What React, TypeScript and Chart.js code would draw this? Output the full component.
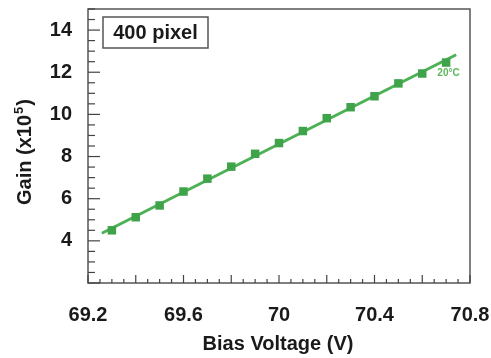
import React, { useEffect, useRef } from "react";
import { Chart, registerables } from "chart.js";

Chart.register(...registerables);

const voltage = [69.3, 69.4, 69.5, 69.6, 69.7, 69.8, 69.9, 70.0, 70.1, 70.2, 70.3, 70.4, 70.5, 70.6, 70.7];
const gain = [4.5, 5.12, 5.68, 6.34, 6.95, 7.52, 8.13, 8.64, 9.21, 9.82, 10.34, 10.86, 11.47, 11.94, 12.46];
const fitVoltage = [69.258, 70.742];
const fitGain = [4.36, 12.83];
const xTickLabels = [69.2, 69.6, 70, 70.4, 70.8];
const yTickLabels = [4, 6, 8, 10, 12, 14];
const seriesLabel = "20°C";
const boxLabel = "400 pixel";

const FONT = "'Liberation Sans', Arial, sans-serif";

const zeroPad = (s: any) => {
  s.paddingLeft = 0;
  s.paddingRight = 0;
  s.paddingTop = 0;
  s.paddingBottom = 0;
};

const decorPlugin = {
  id: "decor",
  afterDraw(chart: any) {
    const { ctx, chartArea: a, scales } = chart;
    const xs = scales.x;
    const ys = scales.y;
    ctx.save();
    // frame
    ctx.strokeStyle = "#555";
    ctx.lineWidth = 1.5;
    ctx.strokeRect(a.left, a.top, a.right - a.left, a.bottom - a.top);
    // x ticks (inward)
    ctx.lineWidth = 1.2;
    ctx.strokeStyle = "#444";
    for (let i = 0; i <= 32; i++) {
      const v = 69.2 + i * 0.05;
      const px = xs.getPixelForValue(v);
      const len = i % 4 === 0 ? 8 : 4;
      ctx.beginPath();
      ctx.moveTo(px, a.bottom);
      ctx.lineTo(px, a.bottom - len);
      ctx.stroke();
    }
    // y ticks (inward)
    for (let i = 0; i <= 26; i++) {
      const v = 2 + i * 0.5;
      const py = ys.getPixelForValue(v);
      const len = i % 4 === 0 ? 12 : 7;
      ctx.beginPath();
      ctx.moveTo(a.left, py);
      ctx.lineTo(a.left + len, py);
      ctx.stroke();
    }
    // label box
    const bx = a.left + 15;
    const by = a.top + 8;
    ctx.strokeStyle = "#555";
    ctx.lineWidth = 1.5;
    ctx.strokeRect(bx, by, 105, 31);
    ctx.fillStyle = "#1a1a1a";
    ctx.font = `bold 20px ${FONT}`;
    ctx.textAlign = "center";
    ctx.textBaseline = "middle";
    ctx.fillText(boxLabel, bx + 52.5, by + 16);
    // series label
    ctx.fillStyle = "#5cb85c";
    ctx.font = `bold 10px ${FONT}`;
    ctx.fillText(seriesLabel, xs.getPixelForValue(70.71), ys.getPixelForValue(11.94));
    // x title
    ctx.fillStyle = "#1a1a1a";
    ctx.font = `bold 20px ${FONT}`;
    ctx.textBaseline = "alphabetic";
    ctx.fillText("Bias Voltage (V)", 278, 350);
    // y title with superscript
    const t1 = "Gain (x10";
    const t2 = "5";
    const t3 = ")";
    ctx.font = `bold 20px ${FONT}`;
    const w1 = ctx.measureText(t1).width;
    const w3 = ctx.measureText(t3).width;
    ctx.font = `bold 13px ${FONT}`;
    const w2 = ctx.measureText(t2).width;
    const total = w1 + w2 + w3 + 2;
    ctx.translate(31, 152);
    ctx.rotate(-Math.PI / 2);
    ctx.textAlign = "left";
    ctx.font = `bold 20px ${FONT}`;
    ctx.fillText(t1, -total / 2, 0);
    ctx.font = `bold 13px ${FONT}`;
    ctx.fillText(t2, -total / 2 + w1 + 1, -8);
    ctx.font = `bold 20px ${FONT}`;
    ctx.fillText(t3, -total / 2 + w1 + w2 + 2, 0);
    ctx.restore();
  },
};

export default function App() {
  const ref = useRef<HTMLCanvasElement | null>(null);
  useEffect(() => {
    if (!ref.current) return;
    const chart = new Chart(ref.current, {
      type: "scatter",
      data: {
        datasets: [
          {
            data: voltage.map((v, i) => ({ x: v, y: gain[i] })),
            pointStyle: "rect",
            pointRadius: 6,
            backgroundColor: "#3fa34a",
            borderColor: "#3fa34a",
            borderWidth: 0,
            showLine: false,
            order: 0,
          },
          {
            data: fitVoltage.map((v, i) => ({ x: v, y: fitGain[i] })),
            showLine: true,
            pointRadius: 0,
            borderColor: "#4cb055",
            borderWidth: 3,
            order: 1,
          },
        ],
      },
      options: {
        responsive: false,
        animation: false,
        layout: { padding: { top: 9, right: 21, left: 0, bottom: 0 } },
        plugins: { legend: { display: false }, tooltip: { enabled: false } },
        scales: {
          x: {
            type: "linear",
            min: 69.2,
            max: 70.8,
            afterBuildTicks: (s: any) => {
              s.ticks = xTickLabels.map((v) => ({ value: v }));
            },
            afterFit: (s: any) => {
              s.height = 75;
              zeroPad(s);
            },
            grid: { display: false, drawTicks: false },
            border: { display: false },
            ticks: {
              autoSkip: false,
              maxRotation: 0,
              padding: 20,
              color: "#1a1a1a",
              font: { family: FONT, size: 20, weight: "bold" },
              callback: (v: any) => String(Math.round(Number(v) * 10) / 10),
            },
          },
          y: {
            type: "linear",
            min: 2,
            max: 15,
            afterBuildTicks: (s: any) => {
              s.ticks = yTickLabels.map((v) => ({ value: v }));
            },
            afterFit: (s: any) => {
              s.width = 88;
              zeroPad(s);
            },
            grid: { display: false, drawTicks: false },
            border: { display: false },
            ticks: {
              autoSkip: false,
              padding: 16,
              color: "#1a1a1a",
              font: { family: FONT, size: 20, weight: "bold" },
              callback: (v: any) => String(v),
            },
          },
        },
      },
      plugins: [decorPlugin],
    });
    return () => chart.destroy();
  }, []);
  return (
    <div style={{ position: "absolute", left: 0, top: 0, width: 491, height: 358, background: "#fff" }}>
      <canvas ref={ref} width={491} height={358} />
    </div>
  );
}
